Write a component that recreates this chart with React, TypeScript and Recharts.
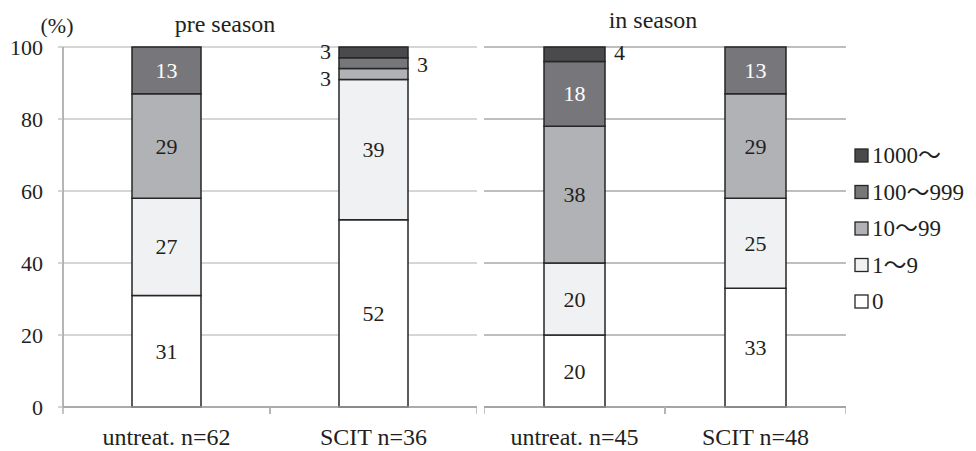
import React from "react";
import { BarChart, Bar, XAxis, YAxis, CartesianGrid, LabelList } from "recharts";

// categories
const preCats = ["untreat. n=62", "SCIT n=36"];
const inCats = ["untreat. n=45", "SCIT n=48"];

// series, bottom to top
const seriesNames = ["0", "1〜9", "10〜99", "100〜999", "1000〜"];

// pre season (%)
const pre0 = [31, 52];
const pre1to9 = [27, 39];
const pre10to99 = [29, 3];
const pre100to999 = [13, 3];
const pre1000 = [0, 3];

// in season (%)
const in0 = [20, 33];
const in1to9 = [20, 25];
const in10to99 = [38, 29];
const in100to999 = [18, 13];
const in1000 = [4, 0];

const yTicks = [0, 20, 40, 60, 80, 100];
const yDomain = [0, 100];

const COLORS: Record<string, string> = {
  "0": "#ffffff",
  "1〜9": "#f0f1f3",
  "10〜99": "#b1b2b5",
  "100〜999": "#77777b",
  "1000〜": "#4a4a4d",
};
const LIGHT_TEXT = ["100〜999", "1000〜"];

// small segments labelled outside the bar (side + small vertical nudge)
const outside: Record<string, Record<string, { side: "left" | "right"; dy: number }>> = {
  "SCIT n=36": {
    "1000〜": { side: "left", dy: -1 },
    "100〜999": { side: "right", dy: 1 },
    "10〜99": { side: "left", dy: 4 },
  },
  "untreat. n=45": { "1000〜": { side: "right", dy: -2 } },
};

const FONT = "'Liberation Serif', 'Times New Roman', 'Noto Sans CJK JP', serif";
const INK = "#231f20";
const AXIS = "#9d9d9d";

const buildRows = (cats: string[], cols: number[][]) =>
  cats.map((cat, i) => {
    const row: Record<string, string | number> = { cat };
    seriesNames.forEach((s, k) => (row[s] = cols[k][i]));
    return row;
  });

const preRows = buildRows(preCats, [pre0, pre1to9, pre10to99, pre100to999, pre1000]);
const inRows = buildRows(inCats, [in0, in1to9, in10to99, in100to999, in1000]);

const segLabel = (key: string) => (props: any) => {
  const { x, y, width, height, value } = props;
  const [cat, v] = String(value).split("|");
  if (!v || v === "0") return null;
  const out = outside[cat]?.[key];
  const cy = Number(y) + Number(height) / 2;
  if (out) {
    const left = out.side === "left";
    const tx = left ? Number(x) - 8 : Number(x) + Number(width) + 9;
    return (
      <text x={tx} y={cy + out.dy} textAnchor={left ? "end" : "start"} dominantBaseline="central"
        fontSize={22} fontFamily={FONT} fill={INK}>
        {v}
      </text>
    );
  }
  return (
    <text x={Number(x) + Number(width) / 2} y={cy} textAnchor="middle" dominantBaseline="central"
      fontSize={22} fontFamily={FONT} fill={LIGHT_TEXT.includes(key) ? "#ffffff" : INK}>
      {v}
    </text>
  );
};

// category label plus Excel-style tick marks at the category boundaries
const CatTick = (props: any) => {
  const { x, y, payload } = props;
  const off = Number(payload?.offset ?? 0);
  return (
    <g>
      <line x1={x - off} x2={x - off} y1={y} y2={y + 7} stroke="#b0b0b0" strokeWidth={1.5} />
      <line x1={x + off} x2={x + off} y1={y} y2={y + 7} stroke="#b0b0b0" strokeWidth={1.5} />
      <text x={x} y={y + 30} textAnchor="middle" dominantBaseline="central" fontSize={24}
        fontFamily={FONT} fill={INK}>
        {payload?.value}
      </text>
    </g>
  );
};

const StageChart: React.FC<{
  rows: Record<string, string | number>[];
  width: number;
  barSize: number;
  showY: boolean;
  gridColor: string;
}> = ({ rows, width, barSize, showY, gridColor }) => (
  <BarChart width={width} height={451} data={rows} margin={{ top: 47, right: 0, left: 0, bottom: 0 }}>
    <CartesianGrid vertical={false} stroke={gridColor} strokeWidth={1.5} />
    <XAxis
      dataKey="cat"
      height={44}
      axisLine={{ stroke: AXIS, strokeWidth: 1.5 }}
      tickLine={false}
      tickSize={0}
      tickMargin={0}
      tick={<CatTick />}
    />
    <YAxis
      domain={yDomain}
      ticks={yTicks}
      hide={!showY}
      width={showY ? 63 : 0}
      tickSize={5}
      tickMargin={15}
      axisLine={{ stroke: AXIS, strokeWidth: 1.5 }}
      tickLine={{ stroke: "#c6c6c6", strokeWidth: 1.5 }}
      tick={{ fontSize: 22, fontFamily: FONT, fill: INK }}
    />
    {seriesNames.map((s) => (
      <Bar key={s} dataKey={s} stackId="a" fill={COLORS[s]} stroke="#262626"
        strokeWidth={1.5} barSize={barSize} isAnimationActive={false}>
        <LabelList dataKey={(d: any) => `${d.cat}|${d[s]}`} content={segLabel(s)} />
      </Bar>
    ))}
  </BarChart>
);

const legendOrder = [...seriesNames].reverse();

export default function App() {
  return (
    <div style={{ position: "absolute", left: 0, top: 0, width: 976, height: 451, background: "#fff" }}>
      <div style={{ position: "absolute", left: 0, top: 0 }}>
        <StageChart rows={preRows} width={477} barSize={69} showY gridColor="#c8c8c8" />
      </div>
      <div style={{ position: "absolute", left: 484, top: 0 }}>
        <StageChart rows={inRows} width={362} barSize={61} showY={false} gridColor="#a9a9a9" />
      </div>
      <svg width={976} height={451} style={{ position: "absolute", left: 0, top: 0, pointerEvents: "none" }}>
        <text x={57} y={25} textAnchor="middle" dominantBaseline="central" fontSize={22} fontFamily={FONT} fill={INK}>(%)</text>
        <text x={225} y={24} textAnchor="middle" dominantBaseline="central" fontSize={24} fontFamily={FONT} fill={INK}>pre season</text>
        <text x={653} y={20} textAnchor="middle" dominantBaseline="central" fontSize={24} fontFamily={FONT} fill={INK}>in season</text>
        {legendOrder.map((s, i) => (
          <g key={s}>
            <rect x={855} y={149 + i * 36.5} width={13} height={13} fill={COLORS[s]} stroke="#262626" strokeWidth={1.3} />
            <text x={872} y={155.5 + i * 36.5} dominantBaseline="central" fontSize={23} fontFamily={FONT} fill={INK}>{s}</text>
          </g>
        ))}
      </svg>
    </div>
  );
}
